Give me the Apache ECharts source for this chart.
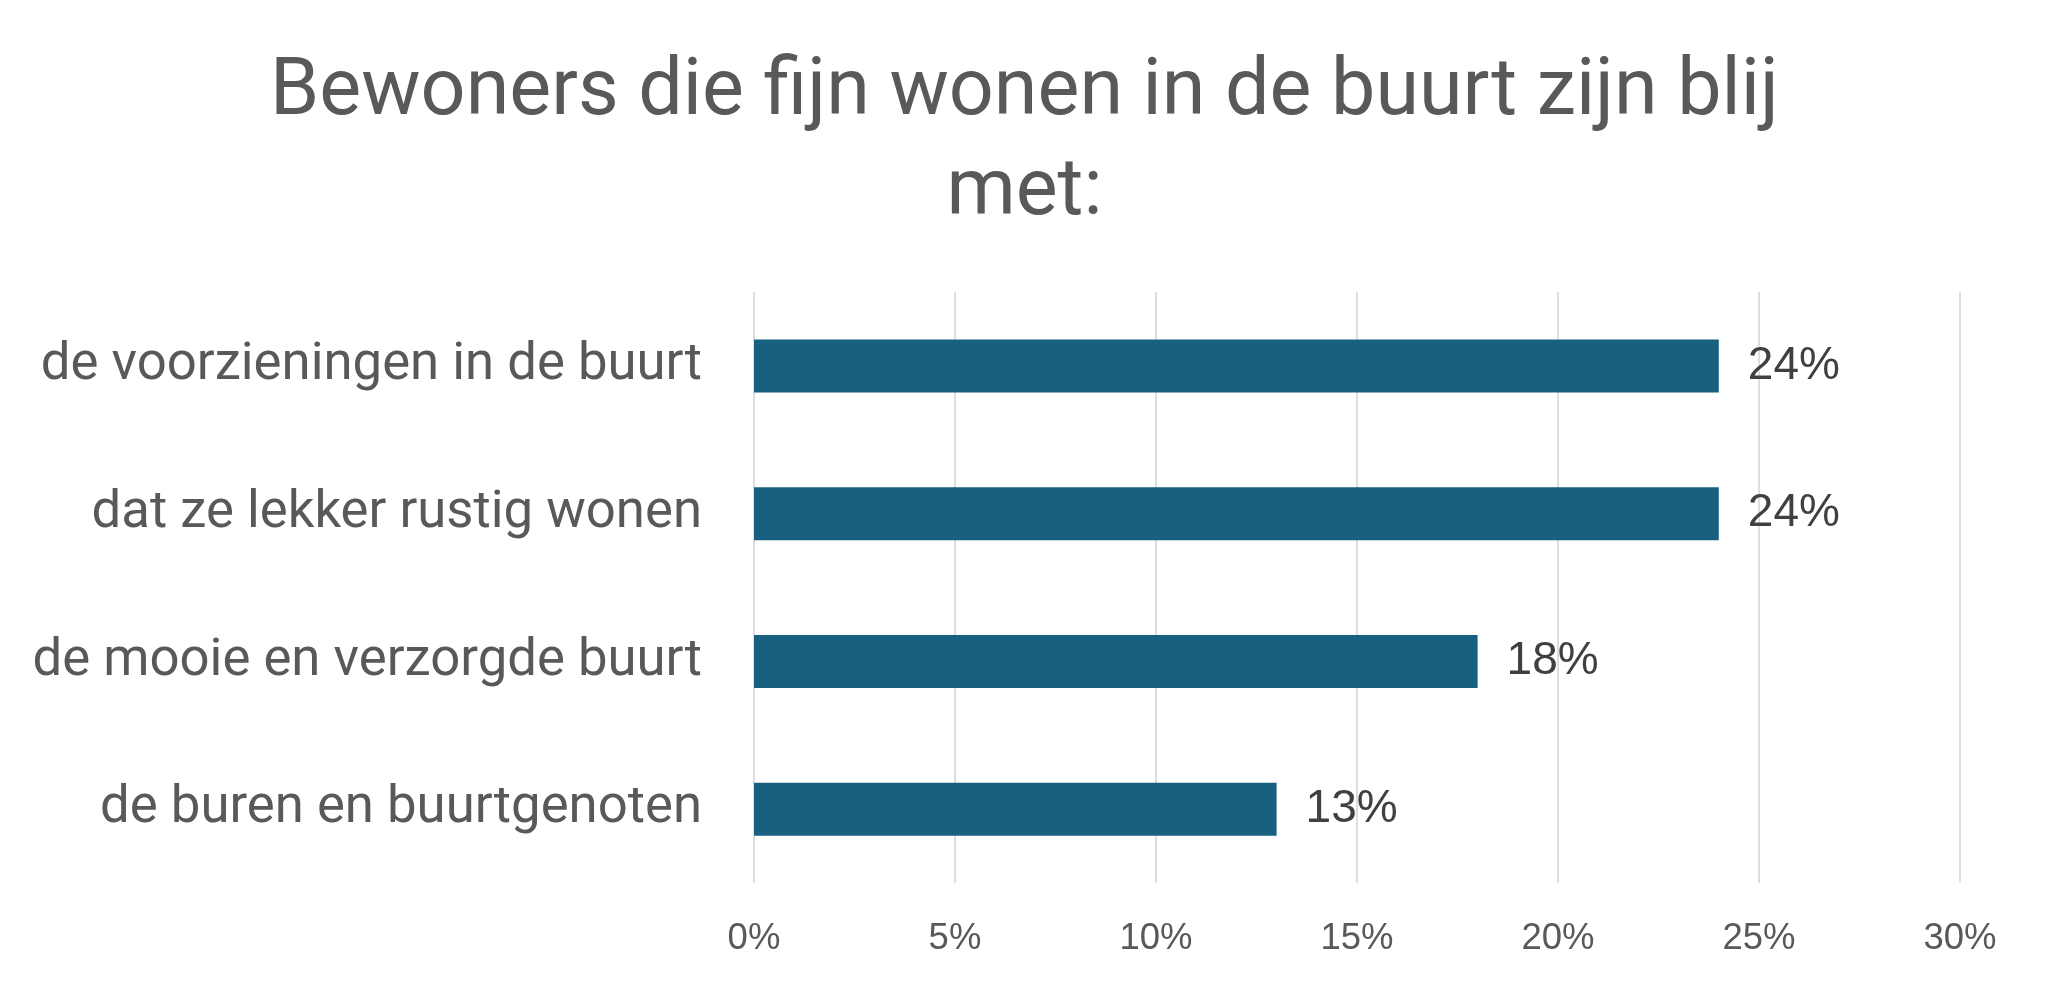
<!DOCTYPE html>
<html>
<head>
<meta charset="utf-8">
<script src="https://cdn.jsdelivr.net/npm/echarts@6/dist/echarts.min.js"></script>
<style>
html,body{margin:0;padding:0;background:#fff;}
#chart{width:2049px;height:990px;}
</style>
</head>
<body>
<div id="chart"></div>
<script>
const titleText = "Bewoners die fijn wonen in de buurt zijn blij\nmet:";
const categories = [
  "de voorzieningen in de buurt",
  "dat ze lekker rustig wonen",
  "de mooie en verzorgde buurt",
  "de buren en buurtgenoten"
];
const values = [24, 24, 18, 13];
const tickMin = 0, tickMax = 30, tickStep = 5;

const FONT = 'Roboto, "Liberation Sans", sans-serif';
const NUMFONT = '"Liberation Sans", Arial, sans-serif';
const chart = echarts.init(document.getElementById('chart'), null, {renderer: 'canvas'});
chart.setOption({
  backgroundColor: '#ffffff',
  animation: false,
  title: {
    text: titleText,
    left: 'center',
    top: 39,
    textStyle: {
      fontFamily: FONT,
      fontSize: 79,
      fontWeight: 'normal',
      color: '#595959',
      lineHeight: 100,
      align: 'center'
    }
  },
  grid: {
    left: 754,
    right: 89,
    top: 292,
    bottom: 107,
    containLabel: false
  },
  xAxis: {
    type: 'value',
    min: tickMin,
    max: tickMax,
    interval: tickStep,
    axisLine: {show: false},
    axisTick: {show: false},
    splitLine: {show: true, lineStyle: {color: '#dedede', width: 2}},
    axisLabel: {
      formatter: v => v + '%',
      fontFamily: NUMFONT,
      fontSize: 36.5,
      color: '#595959',
      margin: 37
    }
  },
  yAxis: {
    type: 'category',
    data: categories,
    inverse: true,
    axisLine: {show: false},
    axisTick: {show: false},
    splitLine: {show: false},
    axisLabel: {
      fontFamily: FONT,
      fontSize: 52.7,
      color: '#595959',
      margin: 52
    }
  },
  series: [{
    type: 'bar',
    data: values,
    barWidth: 53,
    itemStyle: {color: '#176080'},
    label: {
      show: true,
      position: 'right',
      distance: 29,
      formatter: p => p.value + '%',
      fontFamily: NUMFONT,
      fontSize: 46,
      color: '#404040'
    }
  }]
});
</script>
</body>
</html>
